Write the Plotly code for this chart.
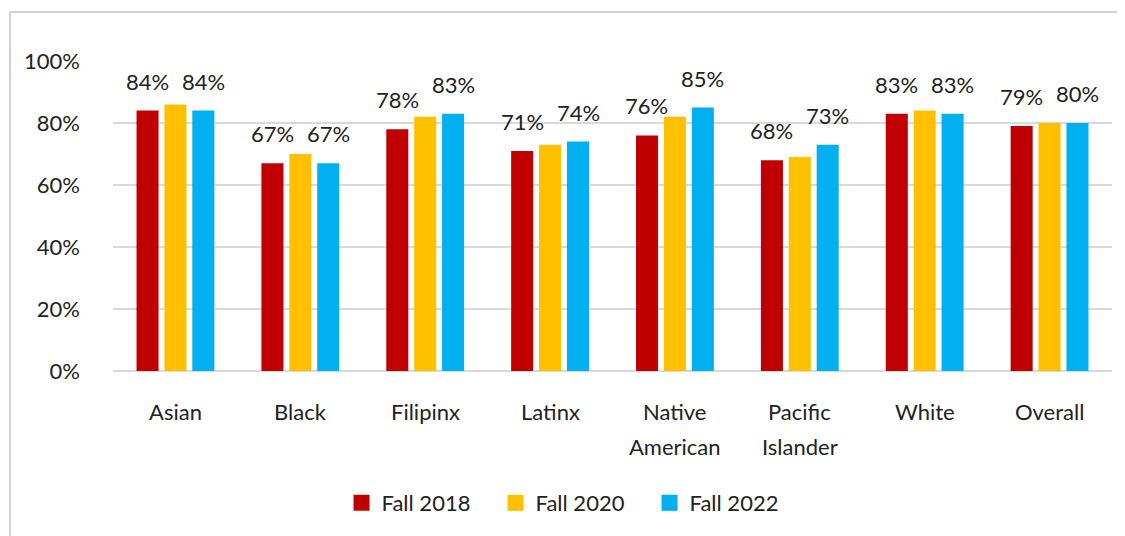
import plotly.graph_objects as go

categories = ["Asian", "Black", "Filipinx", "Latinx", "Native American",
              "Pacific Islander", "White", "Overall"]
category_lines = [["Asian"], ["Black"], ["Filipinx"], ["Latinx"], ["Native", "American"],
                  ["Pacific", "Islander"], ["White"], ["Overall"]]
fall_2018 = [0.84, 0.67, 0.78, 0.71, 0.76, 0.68, 0.83, 0.79]
fall_2020 = [0.86, 0.70, 0.82, 0.73, 0.82, 0.69, 0.84, 0.80]
fall_2022 = [0.84, 0.67, 0.83, 0.74, 0.85, 0.73, 0.83, 0.80]
series_names = ["Fall 2018", "Fall 2020", "Fall 2022"]
colors = ["#C00000", "#FFC000", "#00B0F0"]
y_ticks = [0, 0.2, 0.4, 0.6, 0.8, 1.0]
y_tick_labels = ["0%", "20%", "40%", "60%", "80%", "100%"]

FONT = "Lato, 'Noto Sans', sans-serif"
TXT = "#222222"
fig = go.Figure()
for name, vals, col in zip(series_names, [fall_2018, fall_2020, fall_2022], colors):
    fig.add_trace(go.Bar(x=categories, y=vals, name=name, marker_color=col,
                         marker_line_width=0, showlegend=False, legendgroup=name))
# legend entries with larger square swatches
for name, col in zip(series_names, colors):
    fig.add_trace(go.Scatter(x=[None], y=[None], mode="markers", name=name,
                             legendgroup=name,
                             marker=dict(symbol="square", size=16, color=col)))

# data labels for Fall 2018 and Fall 2022 only
for vals, shift in [(fall_2018, -28), (fall_2022, 28)]:
    for c, v in zip(categories, vals):
        fig.add_annotation(x=c, y=v, text=f"{round(v*100)}%", showarrow=False,
                           xshift=shift, yshift=14, yanchor="bottom",
                           font=dict(family=FONT, size=22, color=TXT))

# category labels (with Excel-like line spacing)
for c, lines in zip(categories, category_lines):
    for i, ln in enumerate(lines):
        fig.add_annotation(x=c, y=0, text=ln, showarrow=False,
                           yanchor="middle", yshift=-40 - 35 * i,
                           font=dict(family=FONT, size=22, color=TXT))

L, R, T, B = 105, 21, 53, 173
W, H = 1125, 536
pw, ph = W - L - R, H - T - B
fig.add_shape(type="line", xref="paper", yref="paper",
              x0=(2 - L) / pw, x1=(W - L) / pw + 0.05,
              y0=1 + (T - 4) / ph, y1=1 + (T - 4) / ph,
              line=dict(color="#d0d0d0", width=2))
fig.add_shape(type="line", xref="paper", yref="paper",
              x0=(2 - L) / pw, x1=(2 - L) / pw,
              y0=1 + (T - 4) / ph, y1=-1,
              line=dict(color="#d0d0d0", width=2))

fig.update_layout(
    width=W, height=H,
    margin=dict(l=L, r=R, t=T, b=B),
    plot_bgcolor="white", paper_bgcolor="white",
    barmode="group", bargap=0.33, bargroupgap=0.21,
    font=dict(family=FONT, size=22, color=TXT),
    showlegend=True,
    legend=dict(orientation="h", x=0.46, xanchor="center", y=-0.426, yanchor="middle",
                font=dict(family=FONT, size=22, color=TXT),
                itemwidth=30, traceorder="normal",
                entrywidth=109, entrywidthmode="pixels"),
    xaxis=dict(showgrid=False, ticks="", showline=False, showticklabels=False),
    yaxis=dict(range=[0, 1.0], tickvals=y_ticks, ticktext=y_tick_labels,
               showgrid=True, gridcolor="#d9d9d9", gridwidth=2,
               zeroline=True, zerolinecolor="#d9d9d9", zerolinewidth=2,
               ticks="", ticklabelstandoff=32,
               tickfont=dict(family=FONT, size=22)),
)
fig.write_html("out.html")
